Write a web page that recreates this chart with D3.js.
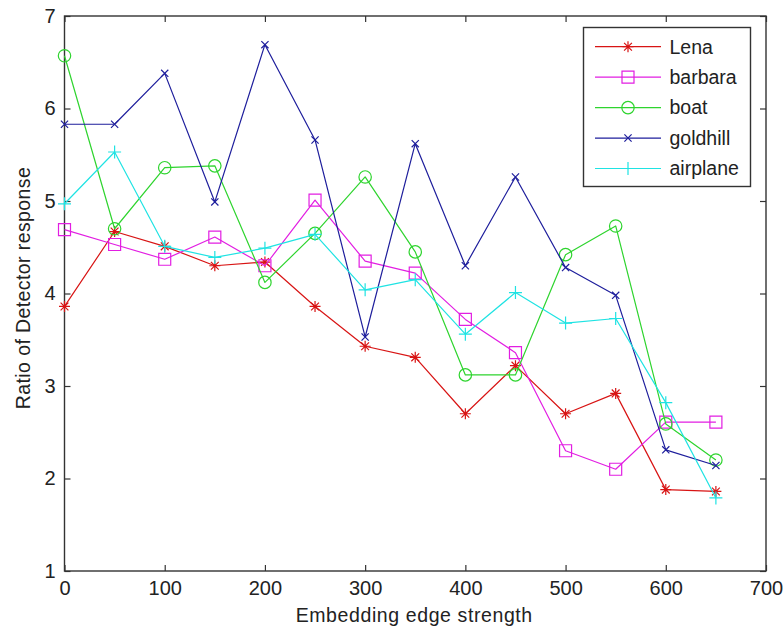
<!DOCTYPE html>
<html>
<head>
<meta charset="utf-8">
<script src="https://cdn.jsdelivr.net/npm/d3@7"></script>
<style>
  html, body { margin: 0; padding: 0; background: #fff; }
  svg { display: block; font-family: "Liberation Sans", Arial, sans-serif; }
</style>
</head>
<body>
<svg id="chart" width="783" height="630"></svg>
<script>
// Embedding edge strength (x) and detector-response ratio per test image
const strengths = [0, 50, 100, 150, 200, 250, 300, 350, 400, 450, 500, 550, 600, 650];
const lena     = [3.86, 4.67, 4.51, 4.30, 4.34, 3.86, 3.43, 3.31, 2.70, 3.22, 2.70, 2.92, 1.88, 1.86];
const barbara  = [4.69, 4.53, 4.37, 4.61, 4.30, 5.01, 4.35, 4.22, 3.72, 3.36, 2.30, 2.10, 2.61, 2.61];
const boat     = [6.57, 4.70, 5.36, 5.38, 4.12, 4.65, 5.26, 4.45, 3.12, 3.12, 4.42, 4.73, 2.59, 2.20];
const goldhill = [5.83, 5.83, 6.38, 4.99, 6.69, 5.66, 3.53, 5.62, 4.30, 5.26, 4.28, 3.98, 2.31, 2.14];
const airplane = [4.97, 5.53, 4.51, 4.39, 4.49, 4.64, 4.04, 4.15, 3.56, 4.01, 3.68, 3.73, 2.82, 1.79];

const seriesNames = ["Lena", "barbara", "boat", "goldhill", "airplane"];
const xTicks = [0, 100, 200, 300, 400, 500, 600, 700];
const yTicks = [1, 2, 3, 4, 5, 6, 7];

const series = [
  { name: seriesNames[0], values: lena,     color: "#d81414", marker: "asterisk" },
  { name: seriesNames[1], values: barbara,  color: "#e21ee2", marker: "square" },
  { name: seriesNames[2], values: boat,     color: "#2ed42e", marker: "circle" },
  { name: seriesNames[3], values: goldhill, color: "#1e1e9c", marker: "times" },
  { name: seriesNames[4], values: airplane, color: "#1fe3e3", marker: "plus" }
];

const svg = d3.select("#chart");
const plotLeft = 64.5, plotRight = 766, plotTop = 16, plotBottom = 571;

const x = d3.scaleLinear().domain([0, 700]).range([plotLeft, plotRight]);
const y = d3.scaleLinear().domain([1, 7]).range([plotBottom, plotTop]);

// Marker outlines (MATLAB-style): built around the origin, then translated
function markerPath(type) {
  const p = d3.path();
  if (type === "asterisk") {
    const r = 5.5, d = 3.9;
    p.moveTo(-r, 0); p.lineTo(r, 0);
    p.moveTo(0, -r); p.lineTo(0, r);
    p.moveTo(-d, -d); p.lineTo(d, d);
    p.moveTo(-d, d); p.lineTo(d, -d);
  } else if (type === "square") {
    const s = 6;
    p.rect(-s, -s, 2 * s, 2 * s);
  } else if (type === "circle") {
    p.moveTo(6.2, 0); p.arc(0, 0, 6.2, 0, 2 * Math.PI);
  } else if (type === "times") {
    const d = 3.6;
    p.moveTo(-d, -d); p.lineTo(d, d);
    p.moveTo(-d, d); p.lineTo(d, -d);
  } else if (type === "plus") {
    const r = 6.5;
    p.moveTo(-r, 0); p.lineTo(r, 0);
    p.moveTo(0, -r); p.lineTo(0, r);
  }
  return p.toString();
}

const fontSize = 20;
const textColor = "#222";

// Axes (box with inward ticks on all four sides)
const gx = svg.append("g").attr("transform", `translate(0,${plotBottom})`)
  .call(d3.axisBottom(x).tickValues(xTicks).tickSizeInner(-6).tickSizeOuter(0).tickPadding(10));
const gy = svg.append("g").attr("transform", `translate(${plotLeft},0)`)
  .call(d3.axisLeft(y).tickValues(yTicks).tickFormat(d3.format("d")).tickSizeInner(-6).tickSizeOuter(0).tickPadding(9));
const gt = svg.append("g").attr("transform", `translate(0,${plotTop})`)
  .call(d3.axisTop(x).tickValues(xTicks).tickFormat("").tickSizeInner(-6).tickSizeOuter(0));
const gr = svg.append("g").attr("transform", `translate(${plotRight},0)`)
  .call(d3.axisRight(y).tickValues(yTicks).tickFormat("").tickSizeInner(-6).tickSizeOuter(0));

[gx, gy, gt, gr].forEach(g => {
  g.select(".domain").remove();
  g.selectAll(".tick line").attr("stroke", "#333").attr("stroke-width", 1.2);
  g.selectAll(".tick text").attr("fill", textColor).style("font-size", fontSize + "px")
    .style("font-family", "'Liberation Sans', Arial, sans-serif");
});

// Plot frame
svg.append("rect")
  .attr("x", plotLeft).attr("y", plotTop)
  .attr("width", plotRight - plotLeft).attr("height", plotBottom - plotTop)
  .attr("fill", "none").attr("stroke", "#333").attr("stroke-width", 1.4);

// Series lines and markers
const line = d3.line().x((d, i) => x(strengths[i])).y(d => y(d));

series.forEach(s => {
  const g = svg.append("g");
  g.append("path")
    .attr("d", line(s.values))
    .attr("fill", "none")
    .attr("stroke", s.color)
    .attr("stroke-width", 1.2)
    .attr("stroke-linejoin", "round");
  g.selectAll("path.marker")
    .data(s.values)
    .join("path")
    .attr("class", "marker")
    .attr("d", markerPath(s.marker))
    .attr("transform", (d, i) => `translate(${x(strengths[i])},${y(d)})`)
    .attr("fill", "none")
    .attr("stroke", s.color)
    .attr("stroke-width", 1.2);
});

// Axis titles
svg.append("text")
  .attr("x", (plotLeft + plotRight) / 2 - 1)
  .attr("y", 622)
  .attr("text-anchor", "middle")
  .attr("fill", textColor)
  .style("font-size", "19.5px")
  .style("letter-spacing", "0.6px")
  .text("Embedding edge strength");

svg.append("text")
  .attr("transform", "translate(30,288) rotate(-90)")
  .attr("text-anchor", "middle")
  .attr("fill", textColor)
  .style("font-size", "19.5px")
  .style("letter-spacing", "0.4px")
  .text("Ratio of Detector response");

// Legend
const legend = svg.append("g");
legend.append("rect")
  .attr("x", 583.5).attr("y", 27.5)
  .attr("width", 167).attr("height", 159)
  .attr("fill", "#fff").attr("stroke", "#333").attr("stroke-width", 1.4);

const legendY = d3.scalePoint().domain(seriesNames).range([46.7, 168.5]);

series.forEach(s => {
  const ly = legendY(s.name);
  legend.append("line")
    .attr("x1", 595).attr("x2", 661)
    .attr("y1", ly).attr("y2", ly)
    .attr("stroke", s.color).attr("stroke-width", 1.2);
  legend.append("path")
    .attr("d", markerPath(s.marker))
    .attr("transform", `translate(628,${ly})`)
    .attr("fill", "none").attr("stroke", s.color).attr("stroke-width", 1.2);
  legend.append("text")
    .attr("x", 669.5).attr("y", ly)
    .attr("dy", "0.35em")
    .attr("fill", textColor)
    .style("font-size", "19.5px")
    .text(s.name);
});
</script>
</body>
</html>
